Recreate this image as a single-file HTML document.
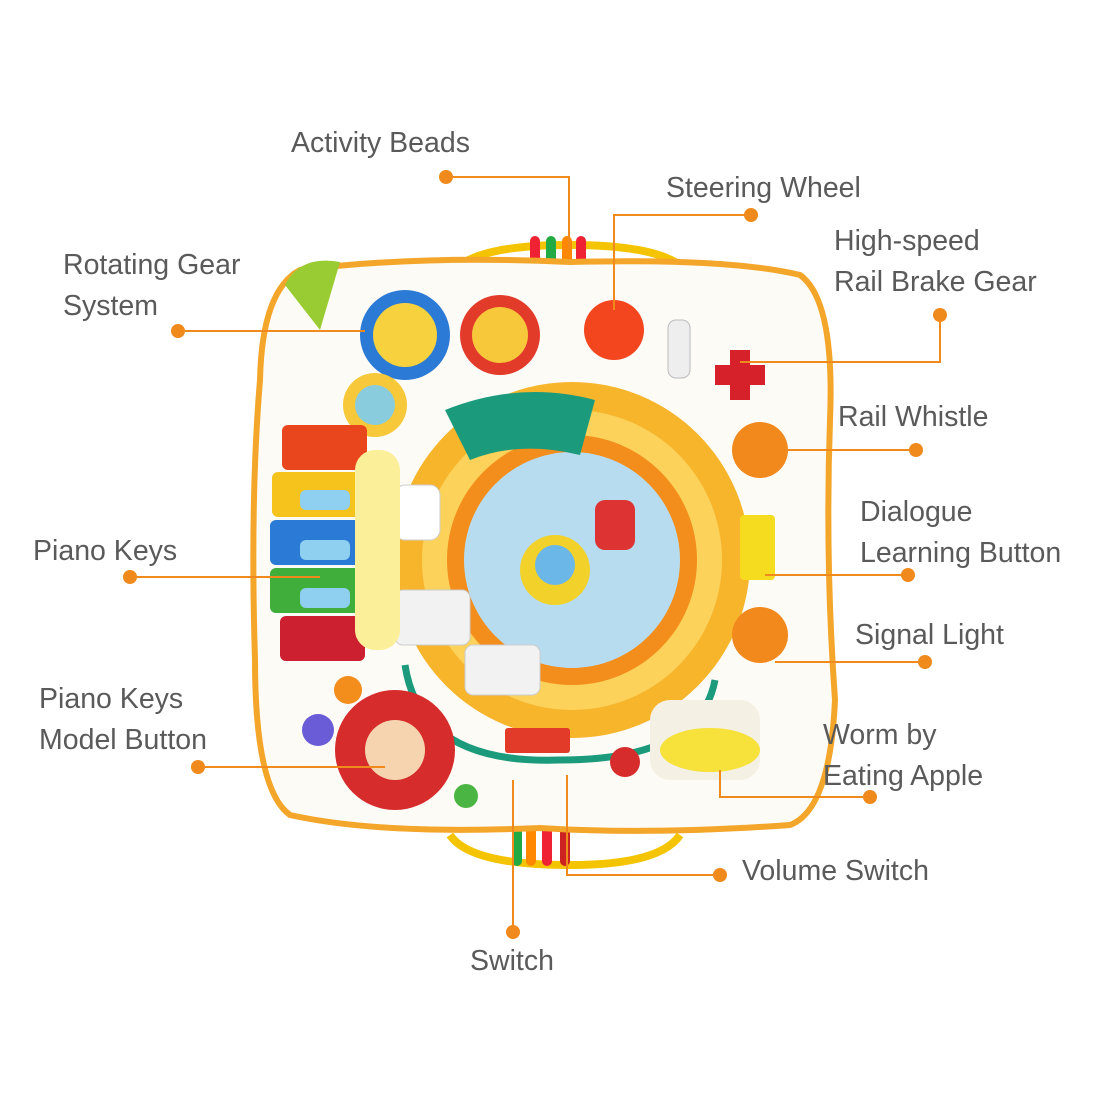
<!DOCTYPE html>
<html><head><meta charset="utf-8"><style>
body{margin:0;background:#fff;}
svg{display:block}
text{font-family:"Liberation Sans",sans-serif;font-size:28.5px;fill:#5a5a5a;}
</style></head><body>
<svg width="1100" height="1100" viewBox="0 0 1100 1100">
<path d="M450 275 Q470 245 570 245 Q670 245 690 275" fill="none" stroke="#f5c400" stroke-width="8"/>
<path d="M450 835 Q470 865 570 865 Q660 865 680 835" fill="none" stroke="#f5c400" stroke-width="8"/>
<g><rect x="530" y="236" width="10" height="38" rx="5" fill="#e23"/><rect x="546" y="236" width="10" height="38" rx="5" fill="#2a4"/><rect x="562" y="236" width="10" height="38" rx="5" fill="#f80"/><rect x="576" y="236" width="10" height="38" rx="5" fill="#e23"/></g>
<g><rect x="512" y="826" width="10" height="40" rx="5" fill="#2a4"/><rect x="526" y="826" width="10" height="40" rx="5" fill="#f80"/><rect x="542" y="826" width="10" height="40" rx="5" fill="#e23"/><rect x="560" y="826" width="10" height="40" rx="5" fill="#c22"/></g>
<path d="M300 270 Q420 255 570 262 Q730 258 800 275 Q835 300 830 420 Q825 560 835 700 Q830 810 790 825 Q650 835 540 828 Q380 835 290 815 Q255 790 255 660 Q250 500 260 380 Q262 290 300 270 Z" fill="#fdfbf6" stroke="#f3a62a" stroke-width="6"/>
<path d="M285 285 Q300 255 340 262 L320 330 Z" fill="#9c3"/>
<circle cx="572" cy="560" r="178" fill="#f7b52c"/>
<circle cx="572" cy="560" r="150" fill="#fcd25a"/>
<circle cx="572" cy="560" r="125" fill="#f38d1c"/>
<circle cx="572" cy="560" r="108" fill="#b7dcf0"/>
<circle cx="555" cy="570" r="35" fill="#f2d12a"/>
<circle cx="555" cy="565" r="20" fill="#6ab7e8"/>
<path d="M445 410 Q520 380 595 400 L580 455 Q520 440 470 460 Z" fill="#1b9b7c"/>
<rect x="595" y="500" width="40" height="50" rx="10" fill="#d33"/>
<rect x="395" y="590" width="75" height="55" rx="8" fill="#f2f2f2" stroke="#ccc"/>
<rect x="465" y="645" width="75" height="50" rx="8" fill="#f2f2f2" stroke="#ccc"/>
<rect x="395" y="485" width="45" height="55" rx="10" fill="#fff" stroke="#ccc"/>
<path d="M405 665 Q420 765 560 760 Q700 760 715 680" fill="none" stroke="#1b9b7c" stroke-width="7"/>
<circle cx="405" cy="335" r="45" fill="#2b7ad6"/><circle cx="405" cy="335" r="32" fill="#f7d23e"/>
<circle cx="500" cy="335" r="40" fill="#e23b2a"/><circle cx="500" cy="335" r="28" fill="#f7c83a"/>
<circle cx="375" cy="405" r="32" fill="#f7c83a"/><circle cx="375" cy="405" r="20" fill="#8cd"/>
<circle cx="614" cy="330" r="30" fill="#f4461e"/>
<rect x="668" y="320" width="22" height="58" rx="8" fill="#eee" stroke="#bbb"/>
<path d="M730 350 h20 v15 h15 v20 h-15 v15 h-20 v-15 h-15 v-20 h15 z" fill="#d6202a"/>
<circle cx="760" cy="450" r="28" fill="#f2891c"/>
<rect x="740" y="515" width="35" height="65" rx="4" fill="#f6dc1e"/>
<circle cx="760" cy="635" r="28" fill="#f2891c"/>
<rect x="650" y="700" width="110" height="80" rx="20" fill="#f4f0e4"/>
<ellipse cx="710" cy="750" rx="50" ry="22" fill="#f6e23a"/>
<g>
<rect x="282" y="425" width="85" height="45" rx="6" fill="#e9461d"/>
<rect x="272" y="472" width="90" height="45" rx="6" fill="#f6c21c"/>
<rect x="270" y="520" width="92" height="45" rx="6" fill="#2b7ad6"/>
<rect x="270" y="568" width="92" height="45" rx="6" fill="#3fae3a"/>
<rect x="280" y="616" width="85" height="45" rx="6" fill="#cc2030"/>
<rect x="300" y="490" width="50" height="20" rx="6" fill="#8fd0f0"/>
<rect x="300" y="540" width="50" height="20" rx="6" fill="#8fd0f0"/>
<rect x="300" y="588" width="50" height="20" rx="6" fill="#8fd0f0"/>
</g>
<rect x="355" y="450" width="45" height="200" rx="20" fill="#fbef9a"/>
<circle cx="395" cy="750" r="60" fill="#d62c2c"/>
<circle cx="395" cy="750" r="30" fill="#f6d4b0"/>
<circle cx="348" cy="690" r="14" fill="#f38d1c"/>
<circle cx="318" cy="730" r="16" fill="#6a5bd6"/>
<circle cx="466" cy="796" r="12" fill="#4bb543"/>
<rect x="505" y="728" width="65" height="25" rx="3" fill="#e23b2a"/>
<circle cx="625" cy="762" r="15" fill="#d62c2c"/>
<g stroke="#f08a1c" stroke-width="2" fill="none">
<polyline points="446,177 569,177 569,250"/>
<polyline points="751,215 614,215 614,310"/>
<polyline points="940,315 940,362 740,362"/>
<polyline points="178,331 365,331"/>
<polyline points="916,450 770,450"/>
<polyline points="908,575 765,575"/>
<polyline points="925,662 775,662"/>
<polyline points="130,577 320,577"/>
<polyline points="198,767 385,767"/>
<polyline points="870,797 720,797 720,770"/>
<polyline points="720,875 567,875 567,775"/>
<polyline points="513,932 513,780"/>
</g>
<g fill="#f08a1c">
<circle cx="446" cy="177" r="7"/><circle cx="751" cy="215" r="7"/><circle cx="940" cy="315" r="7"/>
<circle cx="178" cy="331" r="7"/><circle cx="916" cy="450" r="7"/><circle cx="908" cy="575" r="7"/>
<circle cx="925" cy="662" r="7"/><circle cx="130" cy="577" r="7"/><circle cx="198" cy="767" r="7"/>
<circle cx="870" cy="797" r="7"/><circle cx="720" cy="875" r="7"/><circle cx="513" cy="932" r="7"/>
</g>
<text x="291" y="152">Activity Beads</text>
<text x="666" y="197">Steering Wheel</text>
<text x="834" y="250">High-speed</text>
<text x="834" y="291">Rail Brake Gear</text>
<text x="63" y="274">Rotating Gear</text>
<text x="63" y="315">System</text>
<text x="838" y="426">Rail Whistle</text>
<text x="860" y="521">Dialogue</text>
<text x="860" y="562">Learning Button</text>
<text x="855" y="644">Signal Light</text>
<text x="33" y="560">Piano Keys</text>
<text x="39" y="708">Piano Keys</text>
<text x="39" y="749">Model Button</text>
<text x="823" y="744">Worm by</text>
<text x="823" y="785">Eating Apple</text>
<text x="742" y="880">Volume Switch</text>
<text x="470" y="970">Switch</text>
</svg>
</body></html>
